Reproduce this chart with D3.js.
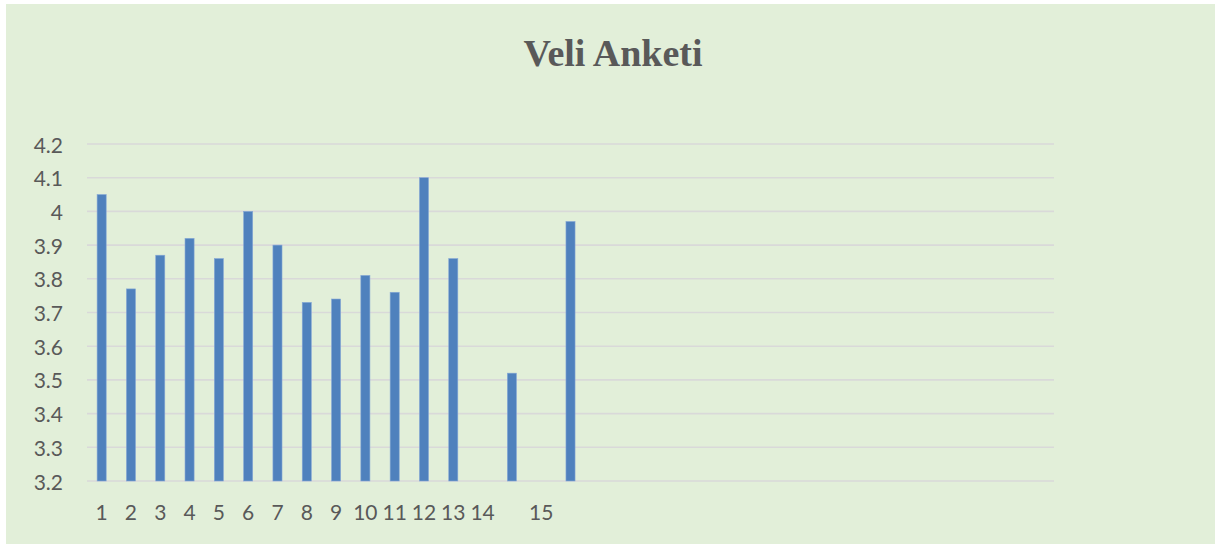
<!DOCTYPE html>
<html>
<head>
<meta charset="utf-8">
<script src="https://cdn.jsdelivr.net/npm/d3@7"></script>
<style>
  html, body { margin: 0; padding: 0; background: #ffffff; }
  svg { display: block; }
</style>
</head>
<body>
<svg id="chart" width="1217" height="544"></svg>
<script>
// Category labels (33 slots on the axis; some unlabeled)
const categories = ["1","2","3","4","5","6","7","8","9","10","11","12","13","14","","15","",
  "","","","","","","","","","","","","","","",""];
// Series values (null = no bar)
const values = [4.05, 3.77, 3.87, 3.92, 3.86, 4.00, 3.90, 3.73, 3.74, 3.81, 3.76, 4.10, 3.86,
  null, 3.52, null, 3.97,
  null, null, null, null, null, null, null, null, null, null, null, null, null, null, null, null];
const yTicks = [3.2, 3.3, 3.4, 3.5, 3.6, 3.7, 3.8, 3.9, 4.0, 4.1, 4.2];
const title = "Veli Anketi";

const svg = d3.select("#chart");
const W = 1217, H = 544;

// chart area background
svg.append("rect").attr("x", 6).attr("y", 4).attr("width", 1209).attr("height", H - 4)
  .attr("fill", "#e2efd9");

const plot = { left: 87, right: 1054, top: 144, bottom: 481 };

const x = d3.scaleBand().domain(d3.range(categories.length))
  .range([plot.left, plot.right]).padding(0);
const y = d3.scaleLinear().domain([3.2, 4.2]).range([plot.bottom, plot.top]);

// gridlines
svg.append("g").selectAll("line").data(yTicks).join("line")
  .attr("x1", plot.left).attr("x2", plot.right)
  .attr("y1", d => y(d)).attr("y2", d => y(d))
  .attr("stroke", "#d9d9d9").attr("stroke-width", 1.6);

// y labels
svg.append("g").selectAll("text").data(yTicks).join("text")
  .attr("x", 63).attr("y", d => y(d))
  .attr("text-anchor", "end").attr("dominant-baseline", "central")
  .attr("font-family", "Lato, 'Open Sans', sans-serif").attr("font-size", 21)
  .attr("fill", "#595959")
  .text(d => d3.format("~g")(d));

// bars
const barFrac = 0.31;
const bw = x.bandwidth() * barFrac;
svg.append("g").selectAll("rect")
  .data(values.map((v, i) => ({ v, i })).filter(d => d.v !== null))
  .join("rect")
  .attr("x", d => x(d.i) + (x.bandwidth() - bw) / 2)
  .attr("width", bw)
  .attr("y", d => y(d.v))
  .attr("height", d => y(3.2) - y(d.v))
  .attr("fill", "#4f81bd")
  .attr("stroke", "#86a8d6").attr("stroke-width", 0.6);

// x labels
svg.append("g").selectAll("text")
  .data(categories.map((c, i) => ({ c, i })).filter(d => d.c !== ""))
  .join("text")
  .attr("x", d => x(d.i) + x.bandwidth() / 2).attr("y", 520)
  .attr("text-anchor", "middle")
  .attr("font-family", "Lato, 'Open Sans', sans-serif").attr("font-size", 21)
  .attr("fill", "#595959")
  .text(d => d.c);

// title
svg.append("text").attr("x", 613).attr("y", 66)
  .attr("text-anchor", "middle")
  .attr("font-family", "'Liberation Serif', 'DejaVu Serif', serif")
  .attr("font-weight", "bold").attr("font-size", 38)
  .attr("fill", "#595959")
  .text(title);
</script>
</body>
</html>
